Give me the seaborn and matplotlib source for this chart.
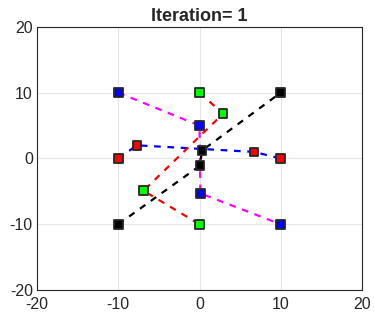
import pandas as pd
import seaborn as sns
import matplotlib.pyplot as plt

# points per group, in the order they are joined by the dashed line
blue_x = [-10, 0, 0.1, 10]
blue_y = [10, 5, -5.3, -10]
red_x = [-10, -7.7, 6.7, 10]
red_y = [0, 2.0, 1.0, 0]
green_x = [0, 2.9, -6.9, 0]
green_y = [10, 6.8, -4.9, -10]
black_x = [-10, 0.05, 0.3, 10]
black_y = [-10, -1.1, 1.2, 10]

groups = ['blue', 'red', 'green', 'black']
marker_colors = {'blue': '#0000ff', 'red': '#ff0000', 'green': '#00ff00', 'black': '#000000'}
line_colors = {'blue': '#ff00ff', 'red': '#0000ff', 'green': '#ff0000', 'black': '#000000'}

rows = []
for g, xs, ys in [('blue', blue_x, blue_y), ('red', red_x, red_y),
                  ('green', green_x, green_y), ('black', black_x, black_y)]:
    for i, (x, y) in enumerate(zip(xs, ys)):
        rows.append({'group': g, 'order': i, 'x': x, 'y': y})
df = pd.DataFrame(rows)

sns.set_style('whitegrid')
plt.rcParams['font.family'] = ['Liberation Sans', 'DejaVu Sans']
plt.rcParams['axes.unicode_minus'] = False

fig = plt.figure(figsize=(3.74, 3.16), dpi=100)
ax = fig.add_axes([0.099, 0.082, 0.869, 0.833])

for g in groups:
    d = df[df['group'] == g]
    sns.lineplot(data=d, x='x', y='y', sort=False, estimator=None, ax=ax,
                 color=line_colors[g], linestyle=(0, (3, 3)), linewidth=1.6, zorder=2)
sns.scatterplot(data=df, x='x', y='y', hue='group', palette=marker_colors, marker='s',
                s=40, edgecolor='#262626', linewidth=1.3, legend=False, ax=ax, zorder=3)

ax.set_xlim(-20, 20)
ax.set_ylim(-20, 20)
ax.set_xticks([-20, -10, 0, 10, 20])
ax.set_yticks([-20, -10, 0, 10, 20])
ax.set_xlabel('')
ax.set_ylabel('')
ax.grid(True, color='#e6e6e6', linewidth=0.8)
for sp in ax.spines.values():
    sp.set_color('#262626')
    sp.set_linewidth(0.8)
ax.tick_params(labelsize=11.5, colors='#262626', direction='in', length=3)
ax.tick_params(axis='x', pad=5)
ax.tick_params(axis='y', pad=3)
ax.set_title('Iteration= 1', fontsize=13, fontweight='bold', pad=4)

fig.savefig('out.png', dpi=100)
